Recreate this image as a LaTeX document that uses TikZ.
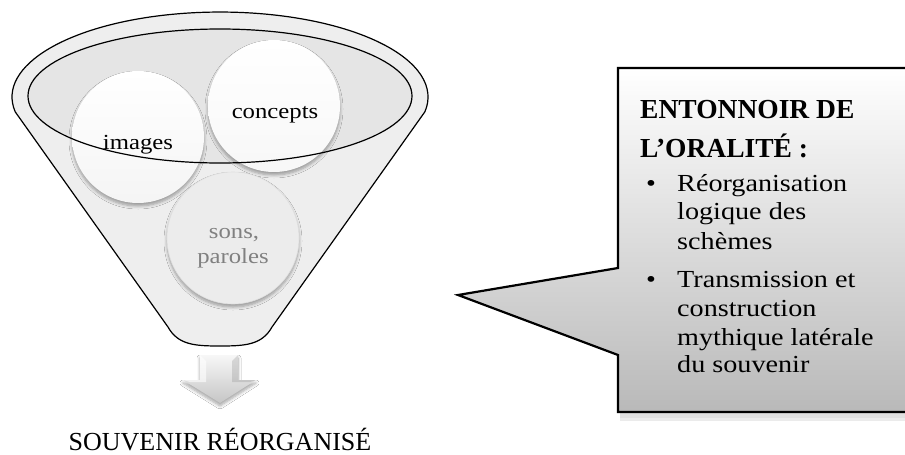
\documentclass[tikz,border=0pt]{standalone}
\usepackage{fontspec}
\setmainfont{Liberation Serif}[FakeStretch=1.15]
\newfontfamily\plainserif{Liberation Serif}
\usetikzlibrary{shadows.blur}
\definecolor{funnelgray}{HTML}{EEEEEE}
\definecolor{innergray}{HTML}{E5E5E5}
\definecolor{sonsgray}{HTML}{ECECEC}
\definecolor{sonstext}{HTML}{808080}
\tikzset{
  softshadow/.style={blur shadow={shadow xshift=0pt, shadow yshift=-3pt, shadow blur steps=6, shadow opacity=35, shadow blur radius=3pt}},
  bubble/.style={circle, minimum size=132pt, inner sep=0pt, softshadow},
  bubbletext/.style={anchor=base, inner sep=0pt, font=\fontsize{21.5}{24}\selectfont},
  itemtext/.style={anchor=base west, inner sep=0pt, font=\fontsize{24.5}{28}\selectfont},
  headtext/.style={anchor=base west, inner sep=0pt, font=\plainserif\bfseries\fontsize{27.5}{30}\selectfont},
}
\begin{document}
\begin{tikzpicture}[x=1pt,y=-1pt]
\begin{pgfinterruptboundingbox}
\fill[white] (0,0) rectangle (905,455);
% funnel body
\path[draw=black, line width=1.2pt, fill=funnelgray]
  (15.2,111.8) arc[start angle=170, end angle=370, x radius=208, y radius=85]
  -- (272,327) .. controls (262,345) and (245,346) .. (220,346)
  .. controls (195,346) and (178,345) .. (168,327) -- cycle;
\fill[innergray] (220,96) ellipse [x radius=192, y radius=67];
% bubbles
\node[bubble, top color=white, bottom color=white!92!gray] (images) at (138,137) {};
\node[bubble, top color=white, bottom color=white!94!gray] (concepts) at (274,106) {};
\node[bubble, fill=sonsgray, draw=gray!25, line width=0.6pt] (sons) at (233,238) {};
\node[bubbletext] (timages) at (138,149) {images};
\node[bubbletext] (tconcepts) at (275,118) {concepts};
\node[bubbletext, text=sonstext] (tsons) at (234,238) {sons,};
\node[bubbletext, text=sonstext] (tparoles) at (233,263) {paroles};
\draw[black, line width=1.2pt] (220,96) ellipse [x radius=192, y radius=67];
% down arrow
\path[top color=gray!6, bottom color=gray!45, softshadow]
  (200,355) -- (238,355) -- (238,380) -- (256,380) -- (220,403) -- (183,380) -- (200,380) -- cycle;
\fill[white, opacity=0.6] (200,355) -- (206,361) -- (206,382) -- (190,382) -- (183,380) -- (200,380) -- cycle;
\fill[gray, opacity=0.25] (238,355) -- (232,361) -- (232,382) -- (250,382) -- (256,380) -- (238,380) -- cycle;
\node[anchor=base, inner sep=0pt, font=\plainserif\fontsize{26}{30}\selectfont] (result) at (220,450) {SOUVENIR RÉORGANISÉ};
% callout
\fill[black, opacity=0.12] (620,412) rectangle (905,418);
\fill[black, opacity=0.08] (620,418) rectangle (905,421);
\path[top color=white, bottom color=gray!55]
  (618,68) -- (905,68) -- (905,412) -- (618,412) -- (618,355) -- (458,295) -- (618,268) -- cycle;
\draw[black, line width=2.2pt, line join=miter]
  (905,68) -- (618,68) -- (618,268) -- (458,295) -- (618,355) -- (618,412) -- (905,412);
\node[headtext] (h1) at (640,118) {ENTONNOIR DE};
\node[headtext] (h2) at (640,157) {L’ORALITÉ :};
\node[itemtext] (b1) at (646,191) {•};
\node[itemtext] (l1) at (677,191) {Réorganisation};
\node[itemtext] (l2) at (677,219) {logique des};
\node[itemtext] (l3) at (677,249) {schèmes};
\node[itemtext] (b2) at (646,287) {•};
\node[itemtext] (l4) at (677,287) {Transmission et};
\node[itemtext] (l5) at (677,316) {construction};
\node[itemtext] (l6) at (677,345) {mythique latérale};
\node[itemtext] (l7) at (677,372) {du souvenir};
\end{pgfinterruptboundingbox}
\useasboundingbox (0,0) rectangle (905,455);
\end{tikzpicture}
\end{document}
